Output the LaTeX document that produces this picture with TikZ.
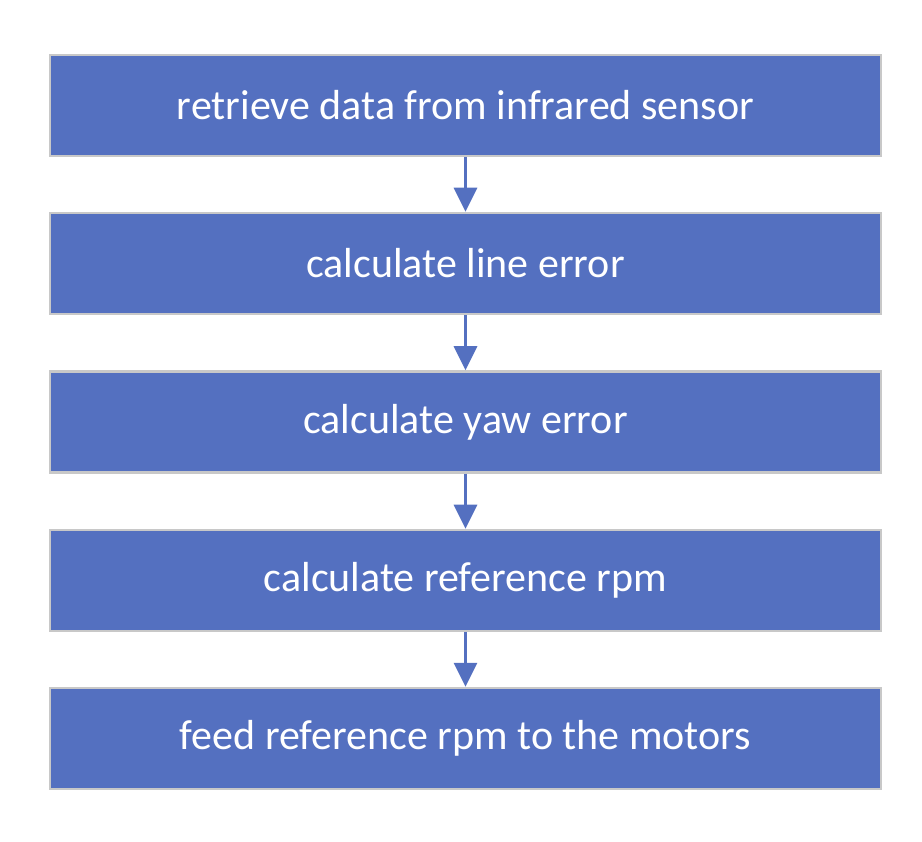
\documentclass[tikz,border=0pt]{standalone}
\usepackage{fontspec}
\setmainfont{Carlito}
\usetikzlibrary{arrows.meta}
\definecolor{stepblue}{RGB}{84,112,192}
\definecolor{stepedge}{RGB}{200,200,200}
\begin{document}
\begin{tikzpicture}[x=1pt,y=-1pt,
  stepbox/.style={draw=stepedge,line width=2.5pt,fill=stepblue,text=white,
    minimum width=831pt,minimum height=101pt,inner sep=0pt,
    font=\fontsize{42}{48}\selectfont},
  flow/.style={draw=stepblue,line width=3pt,-{Triangle[width=23pt,length=24pt]}}]
\useasboundingbox (0,0) rectangle (922,842);
\node[stepbox] (s1) at (465.5,105.5) {retrieve data from infrared sensor};
\node[stepbox] (s2) at (465.5,263.5) {calculate line error};
\node[stepbox] (s3) at (465.5,422) {calculate yaw error};
\node[stepbox] (s4) at (465.5,580.5) {calculate reference rpm};
\node[stepbox] (s5) at (465.5,738.5) {feed reference rpm to the motors};
\draw[flow] (s1) -- (s2);
\draw[flow] (s2) -- (s3);
\draw[flow] (s3) -- (s4);
\draw[flow] (s4) -- (s5);
\end{tikzpicture}
\end{document}
